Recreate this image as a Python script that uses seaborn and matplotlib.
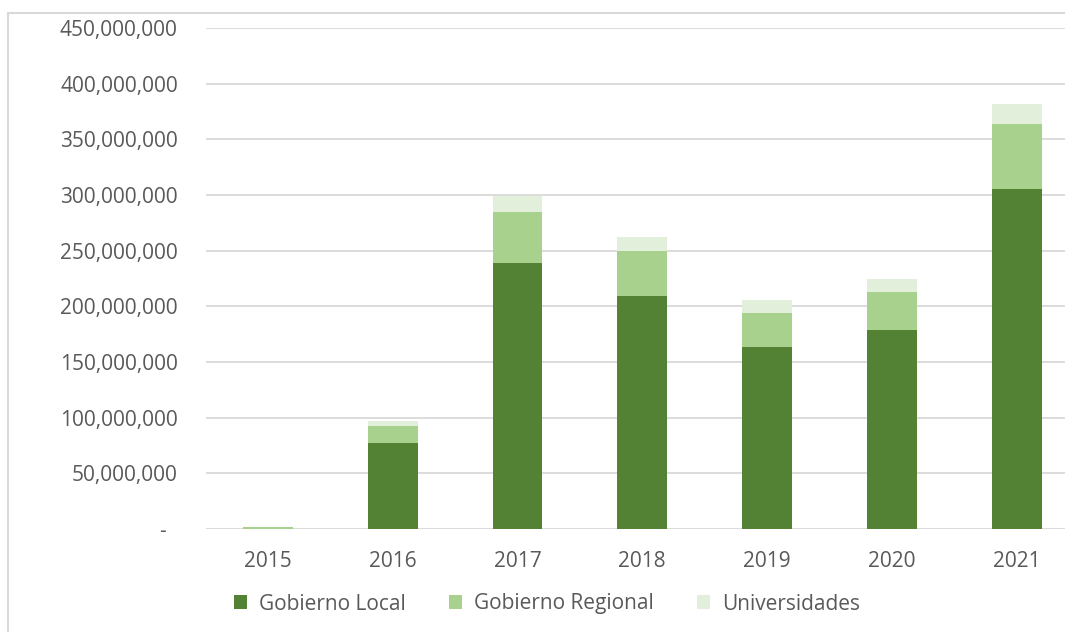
import numpy as np
import pandas as pd
import matplotlib.pyplot as plt
import matplotlib as mpl
from matplotlib.patches import Patch, Rectangle
from matplotlib.ticker import FuncFormatter
import seaborn as sns

# data
years = ["2015", "2016", "2017", "2018", "2019", "2020", "2021"]
gob_local = [0.3e6, 77.2e6, 239.0e6, 209.3e6, 163.5e6, 178.7e6, 305.4e6]
gob_regional = [1.2e6, 15.3e6, 45.7e6, 40.4e6, 30.5e6, 34.2e6, 58.4e6]
universidades = [0.2e6, 4.5e6, 14.4e6, 12.6e6, 11.7e6, 11.7e6, 17.9e6]

series_names = ["Gobierno Local", "Gobierno Regional", "Universidades"]
colors = ["#548235", "#A9D18E", "#E2EFDA"]
text_color = "#595959"
grid_color = "#D9D9D9"

df = pd.DataFrame({"year": years, "local": gob_local,
                   "regional": gob_regional, "univ": universidades})
df["lr"] = df["local"] + df["regional"]
df["total"] = df["lr"] + df["univ"]

sns.set_style("white")
plt.rcParams["font.family"] = ["Open Sans", "DejaVu Sans"]

W, H = 1065, 632
fig = plt.figure(figsize=(W / 100, H / 100), dpi=100)
ax_left, ax_right = 205.6, 1079.0
ax_top, ax_bottom = 28.0, 529.0
ax = fig.add_axes([ax_left / W, 1 - ax_bottom / H,
                   (ax_right - ax_left) / W, (ax_bottom - ax_top) / H])

# stacked bars: draw cumulative totals back to front
sns.barplot(data=df, x="year", y="total", color=colors[2], width=0.4,
            saturation=1, ax=ax, zorder=3)
sns.barplot(data=df, x="year", y="lr", color=colors[1], width=0.4,
            saturation=1, ax=ax, zorder=3)
sns.barplot(data=df, x="year", y="local", color=colors[0], width=0.4,
            saturation=1, ax=ax, zorder=3)
for p in ax.patches:
    p.set_linewidth(0)

ax.set_xlim(-0.5, 6.5)
ax.set_ylim(0, 450e6)
ax.set_yticks(np.arange(0, 450e6 + 1, 50e6))
ax.yaxis.set_major_formatter(FuncFormatter(
    lambda v, pos: "-  " if v == 0 else "{:,.0f}".format(v)))
ax.grid(axis="y", color=grid_color, linewidth=1.3, zorder=0)
ax.set_axisbelow(True)
for s in ["top", "right", "left", "bottom"]:
    ax.spines[s].set_visible(False)
ax.tick_params(axis="y", length=0, pad=20, labelsize=15, labelcolor=text_color)
ax.tick_params(axis="x", length=0, pad=16, labelsize=15, labelcolor=text_color)
ax.set_xlabel("")
ax.set_ylabel("")

# legend at bottom
handles = [Patch(facecolor=c, edgecolor="none") for c in colors]
fig.legend(handles, series_names, loc="center", ncol=3,
           bbox_to_anchor=(547 / W, 1 - 604 / H), frameon=False,
           fontsize=15, labelcolor=text_color, handlelength=0.65,
           handleheight=0.65, handletextpad=0.58, columnspacing=2.05)

# outer chart border (only left and top visible in the crop)
fig.patches.append(Rectangle((8 / W, -0.1), 1.2, 1.1 - 13 / H,
                             transform=fig.transFigure, fill=False,
                             edgecolor=grid_color, linewidth=1.5))

fig.savefig("out.png", dpi=100)
